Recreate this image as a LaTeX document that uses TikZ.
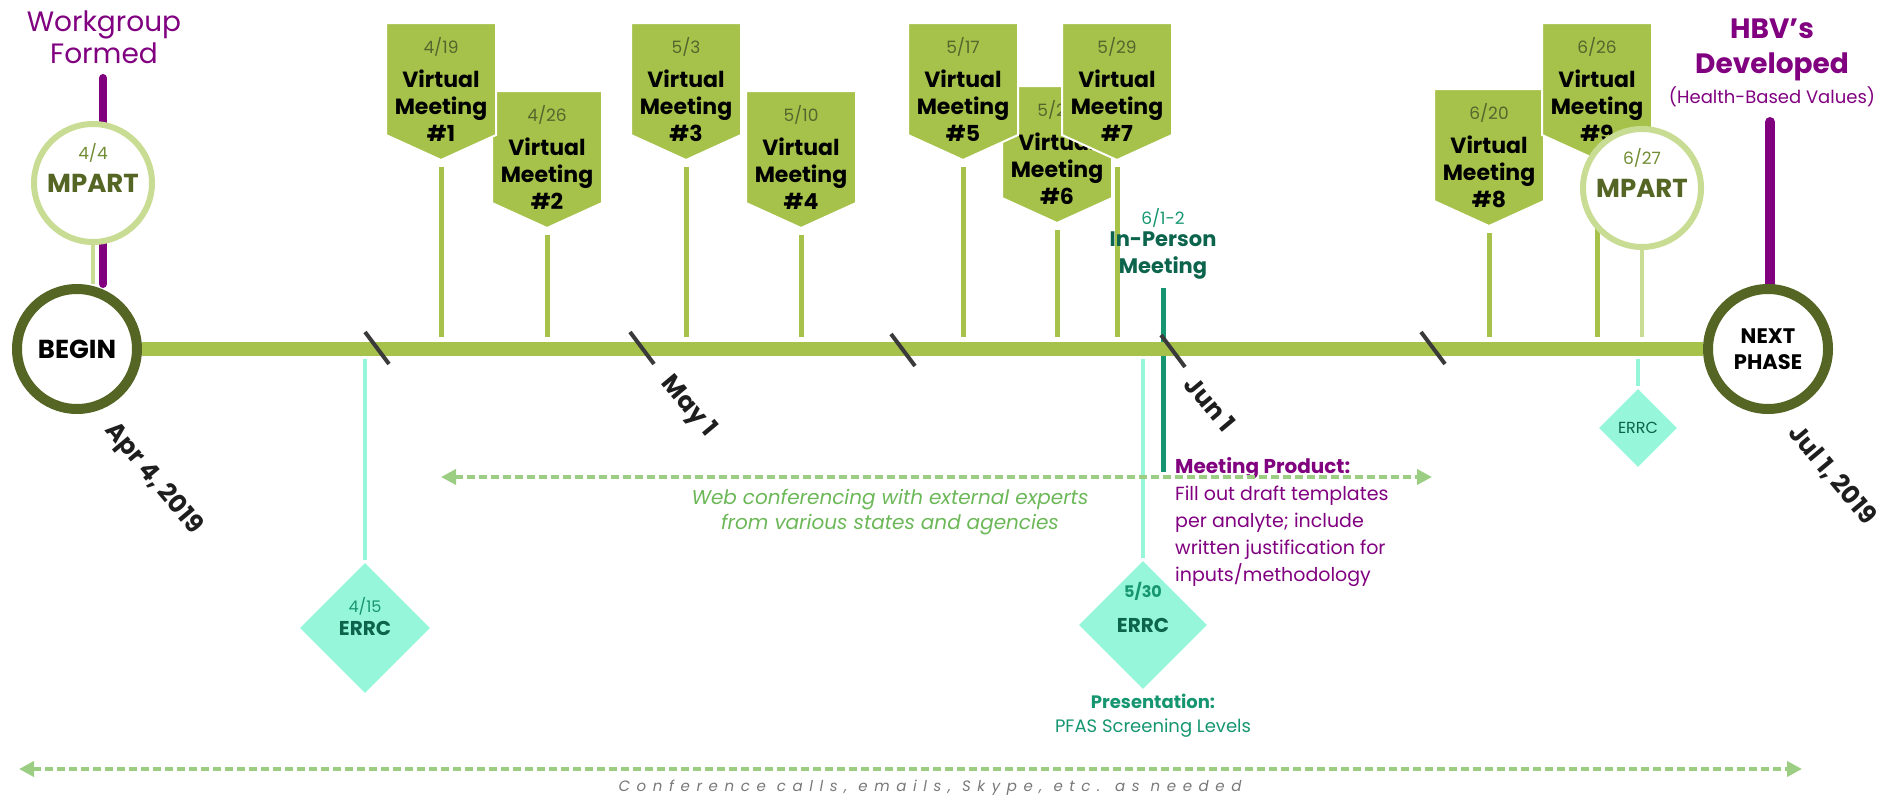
\documentclass[tikz,border=0pt]{standalone}
\usepackage{fontspec}
\setmainfont{Poppins}
\newfontfamily\spacedfont[LetterSpace=44]{Poppins}
\usepackage{tikz}
\usetikzlibrary{positioning,shapes.geometric,arrows.meta,backgrounds}

\definecolor{bargreen}{RGB}{166,194,74}
\definecolor{darkolive}{RGB}{84,101,36}
\definecolor{palegreen}{RGB}{200,220,148}
\definecolor{dateolive}{RGB}{86,101,45}
\definecolor{mpartdate}{RGB}{112,140,50}
\definecolor{wgpurple}{RGB}{128,0,128}
\definecolor{aqua}{RGB}{150,246,218}
\definecolor{tealdark}{RGB}{12,100,76}
\definecolor{tealmid}{RGB}{22,150,112}
\definecolor{dashgreen}{RGB}{155,205,130}
\definecolor{webgreen}{RGB}{108,184,88}
\definecolor{slashgrey}{RGB}{58,58,58}
\definecolor{datelabel}{RGB}{30,30,30}
\definecolor{confgrey}{RGB}{120,120,120}

\tikzstyle{vmbox}     = [rectangle, minimum width=110pt, minimum height=112pt, inner sep=0pt, outer sep=0pt]
\tikzstyle{vmfill}    = [fill=bargreen, draw=white, line width=2pt]
\tikzstyle{vmlabel}   = [inner sep=0pt, align=center, font=\bfseries\fontsize{22}{27}\selectfont]
\tikzstyle{milestone} = [circle, draw=darkolive, line width=10pt, fill=white, minimum size=120pt, inner sep=0pt, align=center, font=\bfseries\fontsize{26}{27}\selectfont]
\tikzstyle{mpart}     = [circle, draw=palegreen, line width=6pt, fill=white, minimum size=118pt, inner sep=0pt, text=darkolive, font=\bfseries\fontsize{26}{30}\selectfont]
\tikzstyle{errc}      = [diamond, fill=aqua, inner sep=0pt, minimum size=130pt, text=tealdark, font=\bfseries\fontsize{20}{24}\selectfont]
\tikzstyle{dasharrow} = [dashgreen, line width=4pt, dash pattern=on 8pt off 4pt, {Triangle[length=15pt,width=15pt]}-{Triangle[length=15pt,width=15pt]}]

\begin{document}
\begin{tikzpicture}[x=1pt, y=1pt,
    stem/.style={bargreen, line width=5pt, shorten <=32pt},
    palestem/.style={palegreen, line width=4pt},
    aqualine/.style={aqua, line width=4pt, shorten >=3pt},
    purpleline/.style={wgpurple, line width=8pt, line cap=round},
    slash/.style={slashgrey, line width=4pt},
    datelab/.style={rotate=-50, inner sep=0pt, text=datelabel, font=\bfseries\fontsize{25}{30}\selectfont},
    smalldate/.style={inner sep=0pt, font=\fontsize{17}{20}\selectfont}]

  \useasboundingbox (0,0) rectangle (1902,-803);

  \coordinate (bartop) at (0,-337);
  \coordinate (barbot) at (0,-359);

  % begin and end
  \node[milestone] (begin) at (77,-349) {BEGIN};
  \node[milestone, font=\bfseries\fontsize{21}{26}\selectfont] (next) at (1768,-349) {NEXT\\PHASE};

  % workgroup and HBV's
  \node[inner sep=0pt, align=center, text=wgpurple, font=\fontsize{28}{32}\selectfont] (wg) at (104,-37) {Workgroup\\Formed};
  \coordinate (wgtop) at (103,-78);
  \node[inner sep=0pt, align=center, text=wgpurple, font=\bfseries\fontsize{28}{35}\selectfont] (hbv) at (1772,-50) {HBV’s\\Developed};
  \node[inner sep=0pt, text=wgpurple, font=\fontsize{18}{20}\selectfont] (hbvsub) at (1772,-97) {(Health-Based Values)};
  \coordinate (hbvtop) at (1770,-122);

  % virtual meetings
  \foreach \n/\x/\y/\d in {2/547/91/{4/26}, 1/441/23/{4/19}, 3/686/23/{5/3}, 4/801/91/{5/10},
                           6/1057/86/{5/24}, 5/963/23/{5/17}, 7/1117/23/{5/29},
                           8/1489/89/{6/20}, 9/1597/23/{6/26}}{
    \node[vmbox, anchor=north] (vm\n) at (\x,-\y) {};
    \filldraw[vmfill] (vm\n.north west) -- (vm\n.north east) -- (vm\n.south east)
      -- ([yshift=-25pt]vm\n.south) -- (vm\n.south west) -- cycle;
    \node[smalldate, text=dateolive] at ([yshift=-24pt]vm\n.north) {\d};
    \node[vmlabel, anchor=north] at ([yshift=-47pt]vm\n.north) {Virtual\\Meeting\\\#\n};
  }

  % MPART
  \node[mpart] (mpartA) at (93,-183) {MPART};
  \node[smalldate, text=mpartdate] at ([yshift=30pt]mpartA.center) {4/4};
  \node[mpart] (mpartB) at (1642,-188) {MPART};
  \node[smalldate, text=mpartdate] at ([yshift=30pt]mpartB.center) {6/27};

  % in-person meeting
  \node[inner sep=0pt, align=center, text=tealdark, font=\bfseries\fontsize{21}{27}\selectfont] (inp) at (1163,-256) {In-Person\\Meeting};
  \node[smalldate, text=tealmid] at (1163,-218) {6/1-2};
  \coordinate (inptop) at (1163,-288);
  \coordinate (inpbot) at (1163,-472);

  % ERRC
  \node[errc] (errcA) at (365,-628) {ERRC};
  \node[smalldate, text=tealmid, font=\fontsize{16}{18}\selectfont] at ([yshift=22pt]errcA.center) {4/15};
  \node[errc, minimum size=128pt] (errcB) at (1143,-625) {ERRC};
  \node[smalldate, text=tealmid, font=\bfseries\fontsize{16}{18}\selectfont] at ([yshift=34pt]errcB.center) {5/30};
  \node[errc, minimum size=78pt, font=\fontsize{16}{18}\selectfont] (errcC) at (1638,-428) {ERRC};

  \node[inner sep=0pt, align=center, text=tealmid, font=\fontsize{18}{24}\selectfont] (pres) at (1153,-716) {\textbf{Presentation:}\\PFAS Screening Levels};

  % meeting product
  \node[inner sep=0pt, anchor=north west, align=left, text=wgpurple, font=\fontsize{19}{27}\selectfont] (mprod) at (1175,-457)
    {{\bfseries\fontsize{20}{27}\selectfont Meeting Product:}\\Fill out draft templates\\per analyte; include\\written justification for\\inputs/methodology};

  % web conferencing
  \coordinate (webL) at (441,-477);
  \coordinate (webR) at (1432,-477);
  \draw[dasharrow] (webL) -- (webR);
  \node[inner sep=0pt, align=center, text=webgreen, font=\itshape\fontsize{20}{25}\selectfont] (web) at (890,-512)
    {Web conferencing with external experts\\from various states and agencies};

  % conference calls
  \coordinate (allL) at (19,-769);
  \coordinate (allR) at (1802,-769);
  \draw[dasharrow] (allL) -- (allR);
  \node[inner sep=0pt, text=confgrey, font=\spacedfont\itshape\fontsize{15}{18}\selectfont] (conf) at (930,-788)
    {Conference calls, emails, Skype, etc. as needed};

  % month marks
  \foreach \x/\y in {377/348, 642/348, 903/350, 1173/351, 1433/348}
    \draw[slash] (\x-12,-\y+16) -- (\x+12,-\y-16);

  \node[datelab] (apr) at (153,-479) {Apr 4, 2019};
  \node[datelab] (may) at (688,-407) {May 1};
  \node[datelab] (jun) at (1210,-404) {Jun 1};
  \node[datelab] (jul) at (1832,-475) {Jul 1, 2019};

  \begin{scope}[on background layer]
    \draw[purpleline] (wgtop) -- (wgtop |- begin.north);
    \draw[purpleline, line width=10pt] (hbvtop) -- (hbvtop |- next.north);
    \draw[palestem] (mpartA.south) -- (mpartA.south |- begin.north);
    \draw[tealmid, line width=5pt] (inptop) -- (inpbot);
    \draw[bargreen, line width=14pt] (begin) -- (next);
    \foreach \n in {1,...,9}
      \draw[stem] (vm\n.south) -- (vm\n.south |- bartop);
    \draw[palestem] (mpartB.south) -- (mpartB.south |- bartop);
    \draw[aqualine] (errcA |- barbot) -- (errcA.north);
    \draw[aqualine] (errcB |- barbot) -- (errcB.north);
    \draw[aqualine] (errcC |- barbot) -- (errcC.north);
  \end{scope}
\end{tikzpicture}
\end{document}
